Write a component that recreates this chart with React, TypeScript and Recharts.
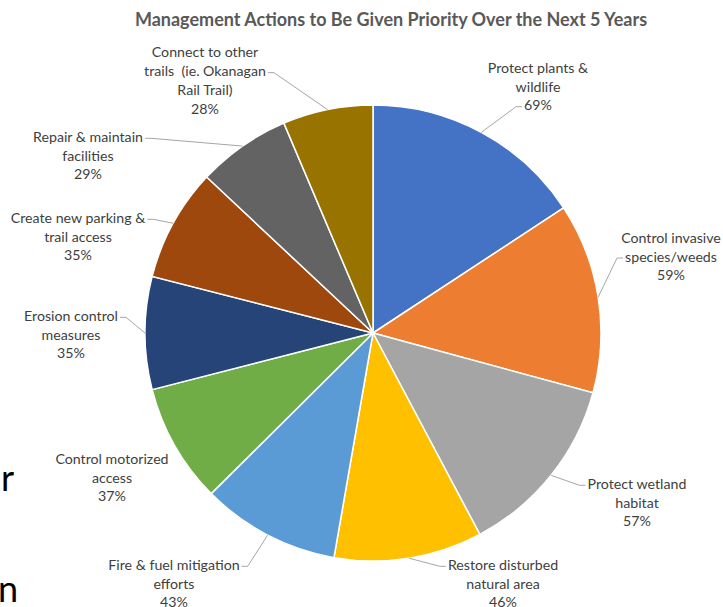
import { PieChart, Pie, Cell } from "recharts";

const actions = [
  "Protect plants & wildlife",
  "Control invasive species/weeds",
  "Protect wetland habitat",
  "Restore disturbed natural area",
  "Fire & fuel mitigation efforts",
  "Control motorized access",
  "Erosion control measures",
  "Create new parking & trail access",
  "Repair & maintain facilities",
  "Connect to other trails (ie. Okanagan Rail Trail)",
];

const percents = [69, 59, 57, 46, 43, 37, 35, 35, 29, 28];

// how each label wraps, as in the original
const labelLines = [
  ["Protect plants &", "wildlife"],
  ["Control invasive", "species/weeds"],
  ["Protect wetland", "habitat"],
  ["Restore disturbed", "natural area"],
  ["Fire & fuel mitigation", "efforts"],
  ["Control motorized", "access"],
  ["Erosion control", "measures"],
  ["Create new parking &", "trail access"],
  ["Repair & maintain", "facilities"],
  ["Connect to other", "trails \u00a0(ie. Okanagan", "Rail Trail)"],
];

const colors = [
  "#4472C4", "#ED7D31", "#A5A5A5", "#FFC000", "#5B9BD5",
  "#70AD47", "#264478", "#9E480E", "#636363", "#997300",
];

// label block centre relative to pie centre, and which line the leader hooks onto
const labelLayout = [
  { dx: 165, dy: -247, hook: 2 },
  { dx: 298, dy: -77, hook: 1 },
  { dx: 264, dy: 169, hook: 0 },
  { dx: 130, dy: 250, hook: 0 },
  { dx: -199, dy: 250, hook: 0 },
  { dx: -261, dy: 144, hook: 0 },
  { dx: -302, dy: 1, hook: 0 },
  { dx: -295, dy: -97, hook: 0 },
  { dx: -285, dy: -178, hook: 0 },
  { dx: -168, dy: -253, hook: 1 },
];

const data = actions.map((name, i) => ({ name, value: percents[i] }));

const RAD = Math.PI / 180;
const LINE_H = 18.7;
const FONT = "Lato, 'Open Sans', sans-serif";
const LABEL_SIZE = 14.2;

let ctx: CanvasRenderingContext2D | null = null;
function textWidth(t: string) {
  if (!ctx) ctx = document.createElement("canvas").getContext("2d");
  if (!ctx) return t.length * 6.8;
  ctx.font = `${LABEL_SIZE}px Lato`;
  return ctx.measureText(t).width;
}

function renderLabel(props: any) {
  const { cx, cy, midAngle, outerRadius, index } = props;
  const lay = labelLayout[index];
  const lines = [...labelLines[index], `${percents[index]}%`];
  const bx = cx + lay.dx;
  const by = cy + lay.dy;
  const top = by - ((lines.length - 1) * LINE_H) / 2;

  const ex = cx + outerRadius * Math.cos(-midAngle * RAD);
  const ey = cy + outerRadius * Math.sin(-midAngle * RAD);

  const half = textWidth(lines[lay.hook]) / 2;
  const hy = top + lay.hook * LINE_H + 2;
  const right = ex > bx;
  const hx = right ? bx + half + 2 : bx - half - 2;
  const tx = right ? hx + 6 : hx - 6;
  // Excel drops the leader when the label already sits against its slice
  const showLeader = Math.hypot(ex - hx, ey - hy) > 16;

  return (
    <g>
      {showLeader && (
        <polyline
          points={`${hx},${hy} ${tx},${hy} ${ex},${ey}`}
          fill="none"
          stroke="#A6A6A6"
          strokeWidth={1}
        />
      )}
      {lines.map((t, k) => (
        <text
          key={k}
          x={bx}
          y={top + k * LINE_H}
          textAnchor="middle"
          dominantBaseline="central"
          fontFamily={FONT}
          fontSize={LABEL_SIZE}
          fill="#404040"
        >
          {t}
        </text>
      ))}
    </g>
  );
}

export default function App() {
  return (
    <div style={{ position: "absolute", left: 0, top: 0, width: 723, height: 607, background: "#fff", overflow: "hidden" }}>
      <svg width={723} height={607} style={{ position: "absolute", left: 0, top: 0 }}>
        <text x={391} y={26} textAnchor="middle" fontFamily={FONT} fontWeight={700} fontSize={18} fill="#595959">
          Management Actions to Be Given Priority Over the Next 5 Years
        </text>
        <text x={1} y={491} fontFamily={FONT} fontSize={36} fill="#000">r</text>
        <text x={-2} y={602} fontFamily={FONT} fontSize={36} fill="#000">n</text>
      </svg>
      <PieChart
        width={723}
        height={607}
        margin={{ top: 0, right: 0, bottom: 0, left: 0 }}
        style={{ position: "absolute", left: 0, top: 0 }}
      >
        <Pie
          data={data}
          dataKey="value"
          nameKey="name"
          cx={373}
          cy={333}
          outerRadius={228}
          startAngle={90}
          endAngle={-270}
          stroke="#fff"
          strokeWidth={1.5}
          label={renderLabel}
          labelLine={false}
          isAnimationActive={false}
        >
          {data.map((d, i) => (
            <Cell key={d.name} fill={colors[i]} />
          ))}
        </Pie>
      </PieChart>
    </div>
  );
}
